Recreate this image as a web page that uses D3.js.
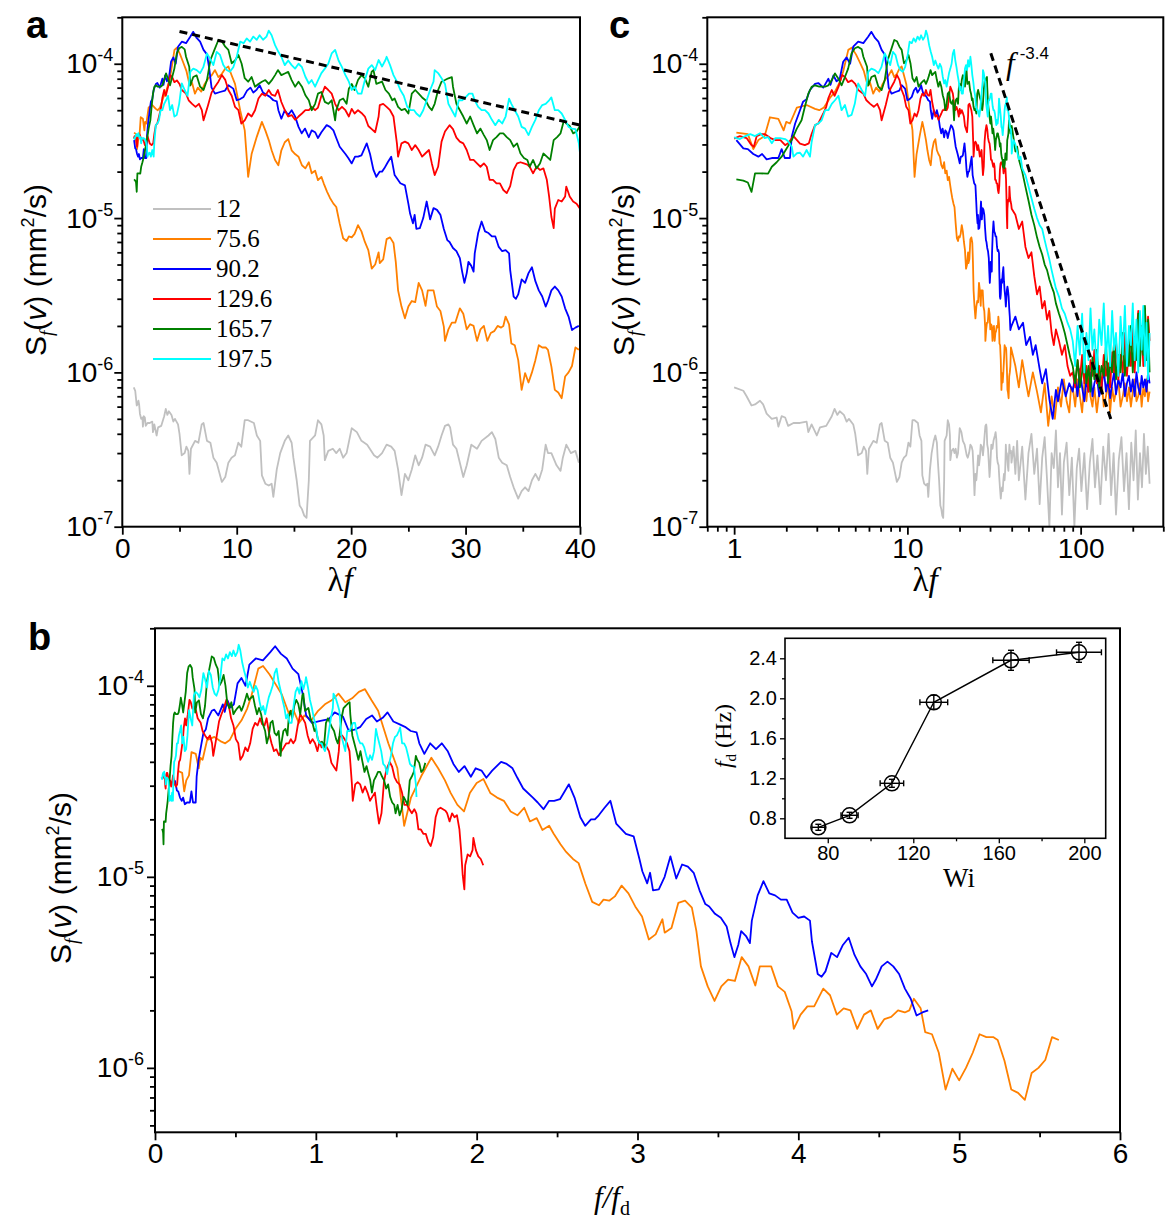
<!DOCTYPE html>
<html>
<head>
<meta charset="utf-8">
<script src="https://cdn.jsdelivr.net/npm/d3@7"></script>
<style>
  body { margin: 0; background: #fff; }
  svg { font-family: "Liberation Sans", Arial, sans-serif; }
</style>
</head>
<body>
<svg id="fig" width="1175" height="1225"></svg>
<script>
// spectra are [lambda*f, S_f] pairs, S_f in units of 1e-6 mm^2/s
var UNIT = 1e-6;
var LAMBDA = 10; // s, so f/f_d = (lambda f) / (lambda f_d)

var legendLabels = ["12", "75.6", "90.2", "129.6", "165.7", "197.5"];

var spec12 = [[1.0,0.80],[1.13,0.76],[1.18,0.70],[1.26,0.61],[1.32,0.62],[1.41,0.655],[1.47,0.62],[1.54,0.54],[1.65,0.50],[1.76,0.51],[1.8,0.445],[1.88,0.52],[1.97,0.51],[2.05,0.45],[2.2,0.47],[2.4,0.47],[2.62,0.48],[2.68,0.41],[2.8,0.46],[3.0,0.39],[3.13,0.44],[3.4,0.45],[3.66,0.52],[3.8,0.58],[3.94,0.53],[4.07,0.56],[4.3,0.53],[4.46,0.48],[4.6,0.50],[4.87,0.46],[5.0,0.40],[5.19,0.29],[5.45,0.30],[5.6,0.33],[5.77,0.31],[5.87,0.22],[6.0,0.32],[6.36,0.36],[6.65,0.35],[6.94,0.46],[7.1,0.47],[7.4,0.36],[7.7,0.35],[7.96,0.28],[8.25,0.26],[8.7,0.195],[9.0,0.21],[9.27,0.26],[9.55,0.28],[9.85,0.29],[10.14,0.35],[10.4,0.33],[10.7,0.49],[11.0,0.49],[11.5,0.47],[11.76,0.39],[12.05,0.36],[12.2,0.215],[12.5,0.19],[12.8,0.185],[13.05,0.19],[13.2,0.156],[13.5,0.235],[13.8,0.30],[14.2,0.36],[14.5,0.39],[14.8,0.35],[14.95,0.28],[15.24,0.2],[15.5,0.137],[15.7,0.13],[15.9,0.118],[16.1,0.114],[16.3,0.2],[16.4,0.36],[16.85,0.39],[17.1,0.49],[17.4,0.46],[17.6,0.39],[17.7,0.27],[18.0,0.31],[18.4,0.32],[18.7,0.30],[19.0,0.32],[19.3,0.28],[19.6,0.30],[20.05,0.435],[20.5,0.41],[20.9,0.36],[21.4,0.34],[22.0,0.29],[22.3,0.28],[22.7,0.30],[23.1,0.34],[23.5,0.33],[23.8,0.31],[24.1,0.235],[24.4,0.16],[24.7,0.22],[25.0,0.2],[25.3,0.235],[25.6,0.29],[25.9,0.25],[26.2,0.28],[26.5,0.34],[26.9,0.33],[27.3,0.29],[27.6,0.33],[27.9,0.39],[28.2,0.45],[28.5,0.46],[28.65,0.44],[28.9,0.34],[29.2,0.32],[29.5,0.26],[29.8,0.21],[30.1,0.25],[30.5,0.34],[31.0,0.32],[31.4,0.36],[32.0,0.39],[32.3,0.41],[32.6,0.37],[32.9,0.28],[33.2,0.26],[33.6,0.25],[33.9,0.21],[34.2,0.18],[34.6,0.152],[34.9,0.17],[35.2,0.18],[35.5,0.17],[35.8,0.2],[36.1,0.22],[36.4,0.2],[36.7,0.235],[37.0,0.34],[37.2,0.3],[37.5,0.3],[37.95,0.25],[38.3,0.23],[38.5,0.28],[38.8,0.34],[39.2,0.3],[39.6,0.31],[39.9,0.26],
  [41,0.33],[42,0.22],[43,0.36],[44,0.2],[46,0.33],[48,0.15],[50,0.3],[52,0.4],[54,0.22],[56,0.32],[58,0.14],[60,0.28],[62,0.38],[64,0.2],[66,0.1],[68,0.3],[70,0.24],[72,0.42],[74,0.18],[76,0.3],[78,0.12],[80,0.26],[83,0.35],[86,0.16],[89,0.28],[92,0.1],[95,0.24],[98,0.32],[101,0.17],[105,0.3],[109,0.13],[113,0.26],[117,0.37],[121,0.18],[125,0.29],[130,0.14],[135,0.33],[140,0.2],[145,0.4],[150,0.16],[155,0.3],[160,0.12],[166,0.27],[172,0.38],[178,0.17],[184,0.3],[190,0.13],[196,0.35],[202,0.2],[208,0.42],[214,0.15],[220,0.3],[226,0.18],[232,0.4],[238,0.22],[244,0.33],[250,0.19]];

var spec756 = [[1.03,35.8],[1.2,35],[1.29,28],[1.38,32],[1.5,34],[1.61,45],[1.8,44],[1.93,37],[2.0,42],[2.1,41],[2.3,52],[2.62,54],[2.93,51],[3.1,50],[3.3,52],[3.57,60],[3.82,66],[4.07,76],[4.26,89],[4.56,123],[4.77,127],[5.05,115],[5.3,103],[5.6,90],[5.9,72],[6.1,75],[6.35,64],[6.6,70],[6.9,66],[7.2,74],[7.5,80],[7.8,84],[8.1,91],[8.4,82],[8.7,86],[9.0,93],[9.27,96],[9.56,84],[9.85,74],[10.3,50],[10.7,37],[11.0,18.5],[11.3,26],[11.75,33.6],[12.2,42],[12.5,37],[12.8,32],[13.05,27.5],[13.35,23.8],[13.64,22],[13.9,27.5],[14.2,31],[14.5,32.5],[14.8,27.5],[15.1,26],[15.4,25],[15.7,22],[16.0,21],[16.3,23],[16.55,19.5],[16.85,20.3],[17.1,17.6],[17.4,18.5],[17.6,16.8],[17.9,14.8],[18.15,13.5],[18.45,12.4],[18.7,11.8],[19.0,9.2],[19.3,7.4],[19.6,7.1],[19.8,7.6],[20.05,7.5],[20.3,7.9],[20.6,9.0],[20.9,8.2],[21.2,7.0],[21.5,6.2],[21.8,4.7],[22.1,5.0],[22.4,6.0],[22.5,5.1],[22.8,5.4],[23.1,7.3],[23.4,7.5],[23.7,6.9],[23.9,5.2],[24.1,3.4],[24.4,2.67],[24.7,2.24],[25.0,2.67],[25.3,2.9],[25.6,2.85],[25.9,3.8],[26.2,3.4],[26.5,2.7],[26.7,3.4],[27.2,3.4],[27.5,2.67],[27.8,2.5],[28.1,1.98],[28.2,1.6],[28.5,1.9],[28.8,2.1],[29.1,2.1],[29.5,2.6],[29.8,2.4],[30.1,1.9],[30.4,2.05],[30.7,2.0],[31.0,1.6],[31.3,1.9],[31.6,2.0],[31.9,1.6],[32.2,1.8],[32.5,1.85],[32.8,2.0],[33.1,1.95],[33.3,2.0],[33.5,2.3],[33.8,2.05],[34.0,1.54],[34.3,1.5],[34.6,1.2],[34.9,0.77],[35.2,0.99],[35.5,0.86],[35.8,1.0],[36.1,1.2],[36.4,1.5],[36.7,1.45],[37.0,1.45],[37.2,1.4],[37.5,1.09],[37.8,0.77],[38.1,0.74],[38.4,0.68],[38.7,0.94],[39.0,1.0],[39.3,1.1],[39.6,1.45],[39.9,1.4],
  [42,1.1],[44,0.8],[46,1.2],[48,0.9],[50,0.7],[53,1.0],[56,0.75],[59,0.55],[62,0.85],[65,0.45],[68,0.7],[71,0.5],[74,0.8],[77,0.6],[80,0.9],[83,0.65],[86,0.55],[88,0.8]];

var spec902 = [[1.03,32],[1.13,28.3],[1.2,28],[1.29,26],[1.38,25],[1.45,26],[1.54,24],[1.65,24.5],[1.8,24.5],[1.88,28],[1.96,24.5],[2.1,24.5],[2.15,33.6],[2.25,41],[2.4,50],[2.5,56.8],[2.62,59],[2.74,67.6],[2.93,74],[3.06,75],[3.27,70],[3.5,80],[3.6,73],[3.74,84],[3.9,77],[4.07,80],[4.26,103],[4.46,110],[4.67,100],[4.87,129],[5.2,139],[5.57,136],[5.95,150],[6.2,161],[6.5,147],[6.8,139],[7.1,123],[7.4,115],[7.6,93],[7.8,70],[8.1,64],[8.54,65.6],[8.98,67],[9.27,72.6],[9.7,69],[10.0,58],[10.3,59],[10.6,61],[10.9,67],[11.2,70],[11.45,65],[11.75,68],[12.0,72.6],[12.3,65],[12.6,63],[12.9,61],[13.2,58],[13.5,57],[13.64,50],[13.9,44],[14.2,50],[14.5,46.6],[14.8,50],[15.1,45.6],[15.4,39],[15.68,35.4],[15.97,38],[16.3,33.4],[16.55,37],[16.85,36],[17.1,33],[17.4,36],[17.86,40],[18.15,39],[18.45,37],[18.7,33],[19.0,29],[19.5,26],[19.75,24.5],[20.05,22.6],[20.34,25],[20.6,25],[20.9,25.5],[21.36,30.5],[21.65,26],[21.95,20.5],[22.2,18.5],[22.5,20],[22.7,20],[22.9,21],[23.2,23],[23.5,25],[23.8,19],[24.3,16.8],[24.7,16.3],[25.0,12.4],[25.15,10.7],[25.4,9.25],[25.55,10.5],[25.7,8.5],[26.0,8.6],[26.3,10],[26.6,12.8],[26.9,9.8],[27.2,11.6],[27.5,11.3],[27.8,10.5],[28.1,8.5],[28.4,7.2],[28.6,7.0],[28.9,6.4],[29.2,6.1],[29.5,5.5],[29.7,4.5],[29.9,3.8],[30.1,4.4],[30.25,5.2],[30.5,4.9],[30.7,4.5],[30.8,5.9],[31.1,8.0],[31.4,9.5],[31.7,8.2],[32.0,8.0],[32.3,7.6],[32.6,7.6],[32.9,6.5],[33.2,6.1],[33.5,6.2],[33.8,5.9],[33.9,4.6],[34.2,3.1],[34.4,3.0],[34.6,3.2],[34.9,4.0],[35.2,3.8],[35.5,4.4],[35.8,4.8],[36.1,3.9],[36.4,3.4],[36.7,3.1],[37.0,2.67],[37.2,2.9],[37.5,3.4],[37.8,3.6],[38.1,3.4],[38.4,3.1],[38.7,2.6],[39.0,2.3],[39.3,1.88],[39.6,1.95],[39.9,2.0],
  [42,2.3],[44,1.9],[46.5,2.1],[48.5,1.5],[51,1.7],[53,1.3],[55,1.5],[58,1.05],[60,0.85],[63,1.05],[66,0.67],[69,0.5],[72,0.77],[74,0.65],[78,0.9],[82,0.7],[86,0.85]];

var spec1296 = [[1.0,32.7],[1.08,34],[1.18,33],[1.26,29.7],[1.3,29],[1.35,34],[1.43,35],[1.5,35],[1.62,33],[1.73,32],[1.85,32],[1.97,29.7],[2.05,30.5],[2.2,34],[2.4,30.4],[2.56,29.7],[2.7,30.5],[2.8,35],[2.93,40],[3.06,41],[3.27,47.6],[3.4,52.6],[3.5,60],[3.66,67.6],[3.8,62],[4.0,70.8],[4.2,84.5],[4.36,82],[4.55,76],[4.77,78],[5.0,74],[5.2,67.6],[5.57,64],[5.8,58],[6.1,55],[6.4,52.6],[6.7,55],[6.95,50],[7.1,43],[7.5,54],[7.8,65],[8.1,71],[8.4,76.5],[8.7,84.5],[9.0,78.6],[9.27,67.6],[9.56,62],[9.85,52.6],[10.15,50],[10.4,41],[10.7,43],[11.0,47.6],[11.3,45.5],[11.6,50],[11.9,59.5],[12.2,64],[12.5,62],[12.8,67.6],[13.05,63],[13.35,62],[13.6,67.6],[13.9,56.5],[14.2,50],[14.5,45.5],[14.8,46.5],[15.1,43.3],[15.4,45.5],[15.7,47.6],[16.0,50],[16.3,50],[16.55,52.6],[16.85,50],[17.1,52],[17.4,62],[17.7,71],[18.0,67.6],[18.3,64],[18.6,55],[18.9,50],[19.2,52.6],[19.5,50],[19.8,45.5],[20.05,51],[20.3,47.6],[20.6,50],[20.9,48],[21.2,45.5],[21.5,39.5],[21.8,37.7],[22.1,36],[22.4,45.5],[22.5,54],[22.8,55],[23.1,52.6],[23.4,50],[23.7,45.5],[24.0,30.5],[24.1,25],[24.4,30.5],[24.7,31.3],[25.0,30.5],[25.3,27.6],[25.6,29.7],[25.9,27.6],[26.2,25],[26.5,26.3],[26.8,27.6],[27.05,22.6],[27.3,19],[27.6,21.5],[27.9,31.3],[28.2,36.4],[28.6,40],[28.9,37.7],[29.2,33.2],[29.5,31.3],[29.8,30.5],[30.1,27.6],[30.4,23.8],[30.7,23.8],[31.0,22.6],[31.3,21.5],[31.6,22.6],[31.85,21.5],[32.1,17.7],[32.4,17.7],[32.7,16.8],[33.0,16.8],[33.3,15.2],[33.6,14.5],[33.9,16.1],[34.2,20.5],[34.5,22.6],[34.8,23],[35.1,22.6],[35.4,22.2],[35.6,21.5],[35.9,19.5],[36.2,21.5],[36.5,20.5],[36.8,21],[37.1,17.7],[37.3,13.8],[37.5,10.2],[37.7,8.6],[37.8,11.5],[38.1,13.1],[38.4,12.8],[38.7,13.8],[38.8,16],[39.1,13.8],[39.4,12.8],[39.7,12.4],[40.0,11.5],
  [42,10.5],[44,8.5],[46,9.5],[48,6.5],[50,5.5],[52,6.0],[54,4.2],[56,3.2],[58,3.6],[60,2.6],[62,2.9],[64,2.2],[66,2.5],[68,1.8],[70,1.5],[72,1.9],[75,1.6],[78,1.3],[81,1.5],[84,1.1],[87,0.95]];

var spec1657 = [[1.03,17.8],[1.13,17.5],[1.2,17],[1.26,14.8],[1.32,19.5],[1.41,19.5],[1.57,19.4],[1.65,21.5],[1.76,23],[1.88,25],[2.0,28],[2.15,32],[2.3,38],[2.45,43],[2.56,52.6],[2.68,64],[2.8,70.8],[2.93,72.5],[3.1,71],[3.35,71],[3.5,72.5],[3.66,78.4],[3.82,86.6],[4.0,80],[4.17,72.5],[4.36,82],[4.55,93],[4.76,116.6],[4.97,126],[5.2,128.6],[5.45,124],[5.57,111],[5.85,95.7],[5.95,72.5],[6.2,82],[6.5,84],[6.8,71],[7.1,67.6],[7.4,78.4],[7.7,105.7],[8.05,123],[8.4,142.6],[8.7,140],[9.0,129],[9.27,123],[9.56,100.7],[9.85,105],[10.15,114],[10.43,100],[10.7,80.6],[11.0,76.5],[11.3,82],[11.6,71],[11.9,74],[12.2,76.5],[12.5,78.4],[12.8,74],[13.05,78],[13.35,84.4],[13.6,91],[13.9,84.4],[14.2,86.5],[14.5,88.5],[14.8,78.4],[15.1,71],[15.4,76.5],[15.7,71],[16.0,62.5],[16.3,58],[16.55,50],[16.85,55],[17.1,64],[17.4,65.6],[17.7,56.6],[18.0,55],[18.3,58],[18.6,43],[18.7,50],[19.0,58],[19.3,59.5],[19.6,55],[19.8,69],[20.05,74],[20.3,67.6],[20.6,78.4],[20.9,84.4],[21.2,80.5],[21.5,71],[21.8,89],[21.95,91],[22.2,74],[22.7,76.5],[23.0,67.6],[23.3,64],[23.6,58],[23.8,59.5],[24.1,52.6],[24.4,50],[24.7,51],[25.0,47.6],[25.3,64],[25.6,67.6],[25.9,64],[26.2,60.5],[26.5,58],[26.8,52.6],[27.05,50],[27.3,55],[27.6,67.6],[27.9,76.5],[28.2,78.4],[28.5,80.5],[28.8,82],[28.9,71],[29.2,55],[29.5,50],[29.8,45.5],[30.1,41],[30.4,45.5],[30.7,40],[31.0,35.4],[31.3,38],[31.6,34.5],[31.85,32],[32.1,27.6],[32.4,32],[32.7,33.5],[33.0,35.4],[33.3,35.4],[33.6,33.5],[33.9,32],[34.2,29],[34.5,30.5],[34.8,26.2],[35.1,24.5],[35.4,23.8],[35.6,21.5],[35.9,23.8],[36.2,21],[36.5,22.6],[36.8,26.2],[37.1,25],[37.4,23.8],[37.7,32],[38.0,33.5],[38.3,35.4],[38.6,43],[38.8,41],[39.1,39.5],[39.4,35.4],[39.7,36.4],[40.0,39.5],
  [41,33],[42,27],[43,29],[44,24],[46,20],[48,16],[50,13],[52,10.5],[54,9.0],[56,7.5],[58,6.5],[60,5.8],[62,5.0],[64,4.6],[66,4.0],[68,3.6],[70,3.3],[72,2.8],[75,2.4],[78,2.1],[81,1.8],[84,1.5],[87,1.25]];

var spec1975 = [[1.0,33.3],[1.08,32.5],[1.16,34],[1.24,35],[1.32,34],[1.41,35.5],[1.5,33],[1.57,33.5],[1.65,30.5],[1.73,33],[1.84,33],[1.97,32.5],[2.05,31.5],[2.15,29],[2.2,25],[2.3,26.3],[2.4,26.5],[2.5,25],[2.62,27.6],[2.74,25],[2.8,31],[2.93,40],[3.06,41],[3.2,43],[3.35,50],[3.5,50],[3.66,55],[3.82,58],[4.0,62],[4.17,50],[4.36,54],[4.55,45.5],[4.76,46.6],[4.97,55],[5.2,74.5],[5.45,67.6],[5.7,62],[5.95,89],[6.2,93],[6.5,91],[6.8,87],[7.08,95],[7.4,116.6],[7.67,108],[7.96,98],[8.25,119.5],[8.54,114],[8.83,98],[9.12,91],[9.4,88.7],[9.7,95],[10.0,111],[10.3,139],[10.6,136],[10.87,146],[11.16,139],[11.45,150],[11.75,143],[12.0,153],[12.3,143],[12.6,150],[12.8,164],[13.05,153],[13.35,132],[13.64,119.5],[13.9,111],[14.2,98],[14.5,105],[14.8,98],[15.1,93],[15.4,100],[15.7,95],[16.0,82.4],[16.3,74.5],[16.55,78.4],[16.85,71],[17.1,78],[17.4,87],[17.7,93],[18.0,100],[18.3,116.6],[18.6,123],[18.9,105],[19.2,95],[19.5,84.4],[19.8,76.5],[20.05,67.6],[20.3,71],[20.6,64],[20.9,64],[21.2,78.4],[21.5,93],[21.8,98],[22.1,91],[22.4,105.7],[22.7,96],[23.0,105.7],[23.1,111],[23.4,98],[23.7,84.4],[24.0,76.5],[24.3,67.6],[24.6,62],[24.9,52.6],[25.2,50],[25.5,50],[25.7,47.6],[26.0,45.5],[26.3,50],[26.6,58],[26.9,67.6],[27.2,76.5],[27.3,91],[27.6,87],[27.9,80.5],[28.2,74],[28.5,55],[28.8,50],[29.1,45.5],[29.4,58],[29.7,58],[30.0,60.5],[30.3,64],[30.6,64],[30.8,58],[31.1,52.6],[31.4,50],[31.7,50],[32.0,47.6],[32.3,43.3],[32.6,40],[32.9,43.3],[33.2,41],[33.5,45.5],[33.8,59.5],[34.0,55],[34.3,50],[34.6,45.5],[34.9,39],[35.2,38],[35.5,34.5],[35.8,39],[36.1,43.3],[36.4,50],[36.7,54],[37.0,55],[37.3,58],[37.5,60.5],[37.8,50],[38.1,50],[38.4,47.6],[38.7,43.3],[39.0,39],[39.3,38],[39.6,37.7],[39.9,30.5],[40.0,26.2],
  [41,32],[42,30],[43,27],[44,24],[45,25],[46,21],[48,19],[50,16],[52,13.5],[54,11.5],[56,10],[58,9],[60,8.5],[62,7.2],[64,6.2],[66,5.4],[68,4.6],[70,4.0],[72,3.5],[75,3.1],[78,2.6],[81,2.4],[84,2.1],[87,1.9]];

// noise floor at high lambda*f (shared grid)
var floorLf = [90,93,96,99,102,105,108,111,114,117,120,124,128,132,136,140,144,148,152,156,160,165,170,175,180,185,190,195,200,205,210,215,220,225,230,235,240,245,250];
var floor756 = [0.8,0.6,0.9,0.7,0.55,0.85,0.65,0.95,0.7,0.6,0.8,0.55,0.75,0.9,0.6,0.7,0.85,0.55,0.8,0.65,0.75,0.9,0.6,0.7,0.85,0.65,0.8,0.6,0.75,0.9,0.65,0.7,0.85,0.6,0.8,0.7,0.9,0.65,0.75];
var floor902 = [0.75,0.95,0.7,1.05,0.8,0.65,0.9,0.75,1.0,0.7,0.85,0.95,0.7,0.8,1.05,0.75,0.9,0.68,0.85,1.0,0.72,0.9,0.8,1.0,0.7,0.85,0.95,0.75,0.9,0.7,1.0,0.8,0.72,0.95,0.8,0.9,0.75,1.0,0.85];
var floor1296 = [1.0,0.8,1.2,0.9,1.3,0.85,1.1,0.75,1.2,0.95,1.4,0.85,1.1,0.8,1.3,0.95,1.15,0.8,1.35,1.0,1.6,0.9,1.3,1.0,1.8,0.95,1.5,1.1,2.2,1.0,1.7,2.5,1.2,2.0,1.1,2.6,1.4,2.3,1.6];
var floor1657 = [1.1,0.85,1.2,0.8,1.0,1.3,0.85,1.1,0.75,1.25,0.9,1.4,0.8,1.1,0.95,1.5,0.85,1.2,1.0,1.6,0.9,1.3,1.0,1.8,0.95,1.5,1.1,2.0,1.0,1.7,1.2,2.4,1.1,1.9,1.3,2.7,1.2,2.2,1.0];
var floor1975 = [1.6,1.1,2.0,1.3,2.4,1.0,1.8,1.2,2.6,1.4,1.9,1.0,2.2,1.5,2.8,1.2,2.0,1.1,2.5,1.4,1.8,0.95,2.3,1.3,2.7,1.1,2.0,1.5,2.8,1.2,2.2,1.0,2.5,1.4,2.7,1.1,2.1,0.9,1.8];

// power-law guides
var guideA = [[5, 162], [40, 40]];
var guideC = [[30.3, 117], [150, 0.49]];

// inset: f_d versus Wi
var wi = [75.6, 90.2, 110, 129.6, 165.7, 197.5];
var fdHz = [0.71, 0.83, 1.15, 1.96, 2.38, 2.46];
var wiErr = [3, 4, 5.5, 6.5, 8.5, 10.5];
var fdErr = [0.03, 0.03, 0.04, 0.07, 0.1, 0.1];

var colors = ["#c0c0c0", "#ff8000", "#0000ff", "#ff0000", "#008000", "#00ffff"];
var SERIF = "Liberation Serif, Times New Roman, serif";
var SANS = "Liberation Sans, Arial, sans-serif";

function withFloor(spec, fl) {
  return fl ? spec.concat(floorLf.map(function(f, i) { return [f, fl[i]]; })) : spec;
}
var series = [
  {label: legendLabels[0], pts: spec12},
  {label: legendLabels[1], pts: withFloor(spec756, floor756)},
  {label: legendLabels[2], pts: withFloor(spec902, floor902)},
  {label: legendLabels[3], pts: withFloor(spec1296, floor1296)},
  {label: legendLabels[4], pts: withFloor(spec1657, floor1657)},
  {label: legendLabels[5], pts: withFloor(spec1975, floor1975)}
];
series.forEach(function(s, i) {
  s.color = colors[i];
  var k = wi.indexOf(+s.label);
  s.fd = k >= 0 ? fdHz[k] : null;
});

var svg = d3.select("#fig");

var xA = d3.scaleLinear().domain([0, 40]).range([122.3, 580]);
var yA = d3.scaleLog().domain([1e-7, 2e-4]).range([526.7, 17.3]);
var xC = d3.scaleLog().domain([0.7, 300]).range([707.3, 1163.3]);
var yC = d3.scaleLog().domain([1e-7, 2e-4]).range([526.7, 17.3]);
var xB = d3.scaleLinear().domain([0, 6]).range([155, 1120]);
var yB = d3.scaleLog().domain([4.6e-7, 2e-4]).range([1132.3, 628.3]);
var xI = d3.scaleLinear().domain([60, 210]).range([785, 1105.7]);
var yI = d3.scaleLinear().domain([0.6, 2.6]).range([838.3, 638.3]);

function logMinor(lo, hi) {
  var out = [];
  for (var e = -8; e <= 3; e++) {
    for (var m = 2; m <= 9; m++) {
      var v = m * Math.pow(10, e);
      if (v >= lo * 0.999 && v <= hi * 1.001) out.push(v);
    }
  }
  return out;
}

function sup(sel) {
  sel.selectAll(".tick text").each(function(d) {
    var e = Math.round(Math.log10(d));
    var t = d3.select(this);
    t.text("10");
    t.append("tspan").attr("dy", -12).attr("font-size", 18).text(e < 0 ? "-" + (-e) : e);
  });
}

function styleAxis(g, size) {
  g.attr("font-family", SANS);
  g.select(".domain").remove();
  g.selectAll(".tick line").attr("stroke", "#000").attr("stroke-width", 1.8);
  g.selectAll(".tick text").attr("font-size", size).attr("fill", "#000");
}

function frame(x, y, sw) {
  svg.append("rect")
    .attr("x", x.range()[0]).attr("y", y.range()[1])
    .attr("width", x.range()[1] - x.range()[0])
    .attr("height", y.range()[0] - y.range()[1])
    .attr("fill", "none").attr("stroke", "#000").attr("stroke-width", sw);
}

function clip(id, x, y) {
  svg.append("clipPath").attr("id", id).append("rect")
    .attr("x", x.range()[0]).attr("y", y.range()[1])
    .attr("width", x.range()[1] - x.range()[0])
    .attr("height", y.range()[0] - y.range()[1]);
}

function axes(x, y, xMajor, xMinor, xFmt, yMajor, yMinor, tickPad) {
  var y0 = y.range()[0], x0 = x.range()[0];
  var gx = svg.append("g").attr("transform", "translate(0," + y0 + ")");
  gx.call(d3.axisBottom(x).tickValues(xMinor).tickSize(5).tickFormat(""));
  styleAxis(gx, 28);
  var gx2 = svg.append("g").attr("transform", "translate(0," + y0 + ")");
  gx2.call(d3.axisBottom(x).tickValues(xMajor).tickSize(8).tickPadding(3).tickFormat(xFmt));
  styleAxis(gx2, 28);
  var gy = svg.append("g").attr("transform", "translate(" + x0 + ",0)");
  gy.call(d3.axisLeft(y).tickValues(yMinor).tickSize(5).tickFormat(""));
  styleAxis(gy, 28);
  var gy2 = svg.append("g").attr("transform", "translate(" + x0 + ",0)");
  gy2.call(d3.axisLeft(y).tickValues(yMajor).tickSize(8).tickPadding(tickPad).tickFormat(function(d) { return d; }));
  styleAxis(gy2, 28);
  sup(gy2);
}

function yTitle(x, y) {
  var t = svg.append("text").attr("transform", "translate(" + x + "," + y + ") rotate(-90)")
    .attr("text-anchor", "middle").attr("font-size", 30).attr("font-family", SANS);
  t.append("tspan").text("S");
  t.append("tspan").attr("font-family", SERIF).attr("font-style", "italic")
    .attr("font-size", 19).attr("dy", 7).text("f");
  t.append("tspan").attr("dy", -7).text("(");
  t.append("tspan").attr("font-style", "italic").text("v");
  t.append("tspan").text(") (mm");
  t.append("tspan").attr("font-size", 18).attr("dy", -12).text("2");
  t.append("tspan").attr("dy", 12).text("/s)");
}

function lfTitle(x, y) {
  var t = svg.append("text").attr("x", x).attr("y", y).attr("text-anchor", "middle")
    .attr("font-family", SERIF).attr("font-size", 33);
  t.append("tspan").text("\u03bb");
  t.append("tspan").attr("font-style", "italic").text("f");
}

function drawSeries(id, x, y, pts) {
  var line = d3.line().x(function(d) { return x(d[0]); }).y(function(d) { return y(d[1] * UNIT); });
  var g = svg.append("g").attr("clip-path", "url(#" + id + ")");
  pts.forEach(function(s) {
    g.append("path").datum(s.data).attr("d", line)
      .attr("fill", "none").attr("stroke", s.color).attr("stroke-width", 1.8)
      .attr("stroke-linejoin", "round");
  });
  return g;
}

function guide(g, x, y, pts) {
  g.append("path").datum(pts)
    .attr("d", d3.line().x(function(d) { return x(d[0]); }).y(function(d) { return y(d[1] * UNIT); }))
    .attr("fill", "none").attr("stroke", "#000").attr("stroke-width", 3).attr("stroke-dasharray", "8,5");
}

var yMajorA = [1e-7, 1e-6, 1e-5, 1e-4];

// ---- panel a ----
clip("clipA", xA, yA);
var gA = drawSeries("clipA", xA, yA, series.map(function(s) {
  return {color: s.color, data: s.pts.filter(function(d) { return d[0] <= 40.05; })};
}));
guide(gA, xA, yA, guideA);
axes(xA, yA, [0, 10, 20, 30, 40], [5, 15, 25, 35], d3.format("d"), yMajorA, logMinor(1e-7, 2e-4), 1);
frame(xA, yA, 2);

// legend
series.forEach(function(s, i) {
  var ly = 209 + 30 * i;
  svg.append("line").attr("x1", 153).attr("x2", 211).attr("y1", ly).attr("y2", ly)
    .attr("stroke", s.color).attr("stroke-width", 2.2);
  svg.append("text").attr("x", 216).attr("y", ly + 8).attr("font-family", SERIF)
    .attr("font-size", 25).text(s.label);
});

// ---- panel c ----
clip("clipC", xC, yC);
var gC = drawSeries("clipC", xC, yC, series.map(function(s) { return {color: s.color, data: s.pts}; }));
guide(gC, xC, yC, guideC);
axes(xC, yC, [1, 10, 100], logMinor(0.7, 300).filter(function(v) { return [1, 10, 100].indexOf(v) < 0; }),
  function(d) { return d; }, yMajorA, logMinor(1e-7, 2e-4), 1);
frame(xC, yC, 2);
var ann = svg.append("text").attr("x", 1006).attr("y", 74).attr("font-size", 31)
  .attr("font-family", SERIF).attr("font-style", "italic").text("f");
ann.append("tspan").attr("font-family", SANS).attr("font-style", "normal")
  .attr("font-size", 17).attr("dx", 5).attr("dy", -15).text("-3.4");

// ---- panel b ----
clip("clipB", xB, yB);
drawSeries("clipB", xB, yB, series.filter(function(s) { return s.fd; }).map(function(s) {
  var scale = LAMBDA * s.fd;
  return {color: s.color, data: s.pts.filter(function(d) { return d[0] <= 40.05; })
    .map(function(d) { return [d[0] / scale, d[1]]; })};
}));
axes(xB, yB, [0, 1, 2, 3, 4, 5, 6], [0.5, 1.5, 2.5, 3.5, 4.5, 5.5], d3.format("d"),
  [1e-6, 1e-5, 1e-4], logMinor(4.6e-7, 2e-4), 3);
frame(xB, yB, 2);

// ---- inset ----
svg.append("rect").attr("x", 785).attr("y", 638.3).attr("width", 320.7).attr("height", 200).attr("fill", "#fff");
var gix = svg.append("g").attr("transform", "translate(0," + yI.range()[0] + ")");
gix.call(d3.axisBottom(xI).tickValues([100, 140, 180]).tickSize(3).tickFormat(""));
styleAxis(gix, 20);
var gix2 = svg.append("g").attr("transform", "translate(0," + yI.range()[0] + ")");
gix2.call(d3.axisBottom(xI).tickValues([80, 120, 160, 200]).tickSize(5).tickPadding(3).tickFormat(d3.format("d")));
styleAxis(gix2, 20);
var giy = svg.append("g").attr("transform", "translate(" + xI.range()[0] + ",0)");
giy.call(d3.axisLeft(yI).tickValues([1.0, 1.4, 1.8, 2.2]).tickSize(3).tickFormat(""));
styleAxis(giy, 20);
var giy2 = svg.append("g").attr("transform", "translate(" + xI.range()[0] + ",0)");
giy2.call(d3.axisLeft(yI).tickValues([0.8, 1.2, 1.6, 2.0, 2.4]).tickSize(5).tickPadding(3).tickFormat(d3.format(".1f")));
styleAxis(giy2, 20);
[gix, gix2, giy, giy2].forEach(function(g) { g.selectAll(".tick line").attr("stroke-width", 1.3); });
frame(xI, yI, 1.6);

var inset = wi.map(function(w, i) { return {w: w, f: fdHz[i], ew: wiErr[i], ef: fdErr[i]}; });
var gi = svg.append("g");
gi.append("path").datum(inset)
  .attr("d", d3.line().x(function(d) { return xI(d.w); }).y(function(d) { return yI(d.f); }))
  .attr("fill", "none").attr("stroke", "#000").attr("stroke-width", 1.4);
inset.forEach(function(d) {
  var cx = xI(d.w), cy = yI(d.f);
  var x1 = xI(d.w - d.ew), x2 = xI(d.w + d.ew), y1 = yI(d.f - d.ef), y2 = yI(d.f + d.ef);
  var segs = [[x1, cy, x2, cy], [x1, cy - 3, x1, cy + 3], [x2, cy - 3, x2, cy + 3],
              [cx, y1, cx, y2], [cx - 3, y1, cx + 3, y1], [cx - 3, y2, cx + 3, y2]];
  segs.forEach(function(s) {
    gi.append("line").attr("x1", s[0]).attr("y1", s[1]).attr("x2", s[2]).attr("y2", s[3])
      .attr("stroke", "#000").attr("stroke-width", 1.4);
  });
  gi.append("circle").attr("cx", cx).attr("cy", cy).attr("r", 7.5)
    .attr("fill", "none").attr("stroke", "#000").attr("stroke-width", 1.5);
});

svg.append("text").attr("x", 959).attr("y", 887).attr("text-anchor", "middle")
  .attr("font-family", SERIF).attr("font-size", 27).text("Wi");
var fdt = svg.append("text").attr("transform", "translate(731,736) rotate(-90)").attr("text-anchor", "middle")
  .attr("font-family", SERIF).attr("font-size", 24);
fdt.append("tspan").attr("font-style", "italic").text("f");
fdt.append("tspan").attr("font-size", 15).attr("dy", 5).text("d");
fdt.append("tspan").attr("dy", -5).text(" (Hz)");

// ---- titles ----
yTitle(46, 270);
yTitle(634, 270);
yTitle(71, 878);
lfTitle(340, 591);
lfTitle(925, 591);
var bt = svg.append("text").attr("x", 612).attr("y", 1208).attr("text-anchor", "middle")
  .attr("font-family", SERIF).attr("font-size", 31);
bt.append("tspan").attr("font-style", "italic").text("f/f");
bt.append("tspan").attr("font-size", 20).attr("dy", 7).text("d");

[["a", 26, 38], ["c", 609, 38], ["b", 28, 650]].forEach(function(p) {
  svg.append("text").attr("x", p[1]).attr("y", p[2]).attr("font-size", 38)
    .attr("font-family", SANS).attr("font-weight", "bold").text(p[0]);
});
</script>
</body>
</html>
